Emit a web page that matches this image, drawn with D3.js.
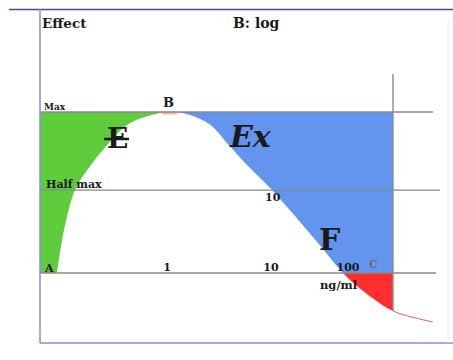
<!DOCTYPE html>
<html>
<head>
<meta charset="utf-8">
<script src="https://cdn.jsdelivr.net/npm/d3@7"></script>
<style>
  body { margin: 0; background: #fff; }
  svg { display: block; }
  text { font-family: "DejaVu Serif", serif; font-weight: bold; fill: #1a1a1a; }
</style>
</head>
<body>
<svg width="453" height="360"></svg>
<script>
// dose position (abstract log axis units) and effect (0 = baseline, 1 = max)
var curveX = [0.425, 0.6, 0.875, 1.2, 1.575, 2.175, 2.7, 3.25, 3.75, 4.25, 4.7, 5.175, 5.8, 6.375, 6.95, 7.575, 8.05, 8.825, 9.825];
var curveY = [0, 0.267, 0.516, 0.646, 0.764, 0.919, 0.975, 1, 0.982, 0.922, 0.8, 0.671, 0.516, 0.354, 0.186, 0, -0.106, -0.236, -0.304];

var peakX = 3.25;        // B
var endX = 8.825;        // C, end of shaded zones
var peakBand = [3.05, 3.43];
var maxLevel = 1, halfLevel = 0.515, baseLevel = 0;

var tickLabels = ["1", "10", "100"];
var tickPos = [3.175, 5.775, 7.7];

var drawChart = function () {
    var svg = d3.select("svg");

    var x = d3.scaleLinear().domain([0, 10]).range([40, 440]);
    var y = d3.scaleLinear().domain([0, 1]).range([273, 112]);

    var pts = curveX.map(function (d, i) { return { x: d, y: curveY[i] }; });

    var defs = svg.append("defs");
    defs.append("clipPath").attr("id", "neg")
        .append("rect")
        .attr("x", x(0)).attr("y", y(0))
        .attr("width", x(endX) - x(0)).attr("height", y(-0.5) - y(0));
    defs.append("clipPath").attr("id", "tail")
        .append("rect")
        .attr("x", x(endX)).attr("y", y(0))
        .attr("width", x(10) - x(endX)).attr("height", y(-0.5) - y(0));
    defs.append("clipPath").attr("id", "top")
        .append("rect")
        .attr("x", x(0)).attr("y", y(maxLevel))
        .attr("width", x(10) - x(0)).attr("height", y(-0.5) - y(maxLevel));

    // E zone and Ex zone
    svg.append("rect")
        .attr("x", x(0)).attr("y", y(maxLevel))
        .attr("width", x(peakX) - x(0)).attr("height", y(0) - y(maxLevel))
        .attr("fill", "#5fcc3c");
    svg.append("rect")
        .attr("x", x(peakX)).attr("y", y(maxLevel))
        .attr("width", x(endX) - x(peakX)).attr("height", y(0) - y(maxLevel))
        .attr("fill", "#6495ee");

    var curve = d3.curveCatmullRom.alpha(0.5);
    var area = d3.area()
        .x(function (d) { return x(d.x); })
        .y0(y(0))
        .y1(function (d) { return y(d.y); })
        .curve(curve);

    svg.append("path").datum(pts).attr("d", area).attr("fill", "#fff")
        .attr("clip-path", "url(#top)");
    svg.append("path").datum(pts).attr("d", area).attr("fill", "#ff2f2f")
        .attr("clip-path", "url(#neg)");

    var line = d3.line()
        .x(function (d) { return x(d.x); })
        .y(function (d) { return y(d.y); })
        .curve(curve);
    svg.append("path").datum(pts).attr("d", line)
        .attr("fill", "none").attr("stroke", "#e45a5a").attr("stroke-width", 1)
        .attr("clip-path", "url(#tail)");

    svg.append("line")
        .attr("x1", x(peakBand[0])).attr("x2", x(peakBand[1]))
        .attr("y1", y(maxLevel) + 1).attr("y2", y(maxLevel) + 1)
        .attr("stroke", "#f2b8b0").attr("stroke-width", 3);

    // reference levels
    var levels = [[maxLevel, 9.825], [halfLevel, 10], [baseLevel, 9.9]];
    svg.selectAll("line.level")
        .data(levels)
        .enter()
        .append("line")
        .attr("class", "level")
        .attr("x1", x(0))
        .attr("x2", function (d) { return x(d[1]); })
        .attr("y1", function (d) { return y(d[0]); })
        .attr("y2", function (d) { return y(d[0]); })
        .attr("stroke", "#8a8a8a").attr("stroke-width", 1.4);

    svg.append("line")
        .attr("x1", x(endX)).attr("x2", x(endX))
        .attr("y1", y(1.236)).attr("y2", y(-0.236))
        .attr("stroke", "#8a8a8a").attr("stroke-width", 1.4);

    // frame
    svg.append("line").attr("x1", 9).attr("x2", 453).attr("y1", 9.5).attr("y2", 9.5)
        .attr("stroke", "#4b4b9c").attr("stroke-width", 1.3);
    svg.append("line").attr("x1", x(0)).attr("x2", x(0)).attr("y1", 9).attr("y2", y(-0.435))
        .attr("stroke", "#8b8be0").attr("stroke-width", 1.5);
    svg.append("line").attr("x1", x(0)).attr("x2", 453).attr("y1", y(-0.435)).attr("y2", y(-0.435))
        .attr("stroke", "#8b8be0").attr("stroke-width", 1.5);
    svg.append("line").attr("x1", 448).attr("x2", 448).attr("y1", 20).attr("y2", y(-0.435))
        .attr("stroke", "#ececec").attr("stroke-width", 1);

    // labels
    var label = function (t, px, py, size, extra) {
        var el = svg.append("text").attr("x", px).attr("y", py)
            .attr("font-size", size).text(t);
        if (extra) extra(el);
        return el;
    };
    label("Effect", 42, 28, 13.5);
    label("B: log", 233, 28, 14);
    label("Max", 44, 110, 9);
    label("B", x(peakX) - 7, y(maxLevel) - 5, 13);
    label("E", 107, 148, 28);
    svg.append("line").attr("x1", 104).attr("x2", 129).attr("y1", 139).attr("y2", 139)
        .attr("stroke", "#1a1a1a").attr("stroke-width", 2.5);
    label("Ex", 230, 147, 30, function (el) { el.attr("font-style", "italic"); });
    label("Half max", 46, y(halfLevel) - 2, 11);
    label("10", 265, y(halfLevel) + 11, 11);
    label("F", 319, 250, 30);
    label("A", 45, y(0) - 1, 11);
    label("C", 369, y(0) - 5, 11, function (el) { el.style("fill", "#6a6a7a"); });
    label("ng/ml", 320, y(0) + 16, 11.5);

    svg.selectAll("text.tick")
        .data(tickLabels)
        .enter()
        .append("text")
        .attr("class", "tick")
        .attr("x", function (d, i) { return x(tickPos[i]); })
        .attr("y", y(0) - 2)
        .attr("text-anchor", "middle")
        .attr("font-size", 11)
        .text(function (d) { return d; });
};
drawChart();
</script>
</body>
</html>
